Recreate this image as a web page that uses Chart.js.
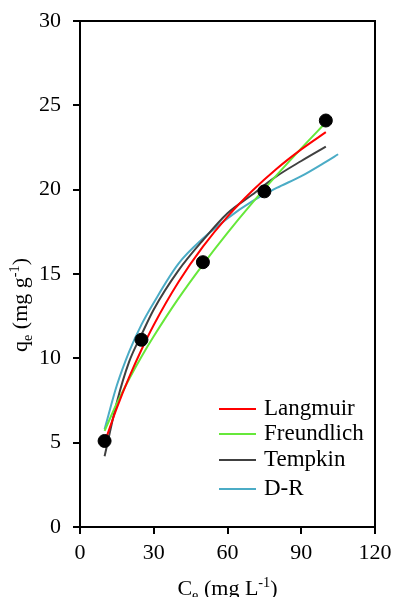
<!DOCTYPE html>
<html>
<head>
<meta charset="utf-8">
<title>Adsorption isotherms</title>
<script src="https://cdn.jsdelivr.net/npm/chart.js@4.4.0/dist/chart.umd.min.js"></script>
<style>
  html, body { margin: 0; padding: 0; background: #fff; }
</style>
</head>
<body>
<canvas id="isoChart" width="394" height="597"></canvas>
<script>
// Experimental equilibrium data
const ceExp = [10, 25, 50, 75, 100];
const qeExp = [5.1, 11.1, 15.7, 19.9, 24.1];

// Model curves (Ce in mg/L, qe in mg/g)
const ceFit = [10, 15, 20, 25, 30, 40, 50, 60, 70, 80, 90, 100];
const langmuirFit = [5.0, 7.06, 8.88, 10.51, 11.98, 14.51, 16.62, 18.4, 19.92, 21.24, 22.39, 23.41];
const freundlichFit = [5.7, 7.34, 8.78, 10.1, 11.31, 13.54, 15.56, 17.44, 19.2, 20.86, 22.45, 23.98];
const tempkinFit = [4.2, 7.4, 9.8, 11.4, 12.9, 15.2, 17.0, 18.6, 19.7, 20.8, 21.7, 22.55];
const ceDR = [10, 15, 20, 25, 30, 40, 50, 60, 70, 80, 90, 100, 105];
const drFit = [5.8, 8.4, 10.4, 12.0, 13.3, 15.6, 17.1, 18.3, 19.3, 20.1, 20.8, 21.65, 22.1];

const xTickValues = [0, 30, 60, 90, 120];
const yTickValues = [0, 5, 10, 15, 20, 25, 30];

const FONT = "'Liberation Serif', 'Times New Roman', serif";

function toPoints(xs, ys) {
  return xs.map((x, i) => ({ x: x, y: ys[i] }));
}

function fitLine(label, xs, ys, color) {
  return {
    label: label,
    data: toPoints(xs, ys),
    showLine: true,
    borderColor: color,
    backgroundColor: color,
    borderWidth: 2,
    pointRadius: 0,
    cubicInterpolationMode: 'monotone'
  };
}

// keep the plot box fixed: no extra room for overhanging tick labels
function fixScale(s, size) {
  if (s.isHorizontal()) s.height = size; else s.width = size;
  s.paddingLeft = 0;
  s.paddingRight = 0;
  s.paddingTop = 0;
  s.paddingBottom = 0;
}

// draw a string made of normal / subscript / superscript pieces
function richWidth(ctx, parts, size) {
  let w = 0;
  parts.forEach(p => {
    ctx.font = (p.sub || p.sup ? size * 0.65 : size) + 'px ' + FONT;
    w += ctx.measureText(p.t).width;
  });
  return w;
}

function drawRich(ctx, parts, size, cx, cy) {
  let x = cx - richWidth(ctx, parts, size) / 2;
  ctx.textBaseline = 'alphabetic';
  ctx.textAlign = 'left';
  parts.forEach(p => {
    let s = p.sub || p.sup ? size * 0.65 : size;
    ctx.font = s + 'px ' + FONT;
    let dy = p.sub ? size * 0.22 : (p.sup ? -size * 0.38 : 0);
    ctx.fillText(p.t, x, cy + dy);
    x += ctx.measureText(p.t).width;
  });
}

const framePlugin = {
  id: 'frame',
  afterDraw(chart) {
    const ctx = chart.ctx;
    const a = chart.chartArea;
    ctx.save();

    // top and right edges of the plot box
    ctx.strokeStyle = '#000';
    ctx.lineWidth = 2;
    ctx.beginPath();
    ctx.moveTo(a.left, a.top);
    ctx.lineTo(a.right, a.top);
    ctx.lineTo(a.right, a.bottom);
    ctx.stroke();

    // legend inside the plot
    const rows = [409, 434, 460, 489];
    const fits = chart.data.datasets.slice(1);
    ctx.font = '23px ' + FONT;
    ctx.textBaseline = 'middle';
    ctx.textAlign = 'left';
    fits.forEach((ds, i) => {
      ctx.strokeStyle = ds.borderColor;
      ctx.lineWidth = 2;
      ctx.beginPath();
      ctx.moveTo(219, rows[i]);
      ctx.lineTo(256, rows[i]);
      ctx.stroke();
      ctx.fillStyle = '#000';
      ctx.fillText(ds.label, 264, rows[i]);
    });

    // axis titles
    ctx.fillStyle = '#000';
    drawRich(ctx, [{ t: 'C' }, { t: 'e', sub: true }, { t: ' (mg L' }, { t: '-1', sup: true }, { t: ')' }],
      22, (a.left + a.right) / 2, 595);
    ctx.translate(27, 305);
    ctx.rotate(-Math.PI / 2);
    drawRich(ctx, [{ t: 'q' }, { t: 'e', sub: true }, { t: ' (mg g' }, { t: '-1', sup: true }, { t: ')' }],
      22, 0, 0);
    ctx.restore();
  }
};

const ctx = document.getElementById('isoChart');

new Chart(ctx, {
  type: 'scatter',
  data: {
    datasets: [
      {
        label: 'Experimental',
        data: toPoints(ceExp, qeExp),
        pointRadius: 6.5,
        pointBackgroundColor: '#000',
        pointBorderColor: '#000',
        showLine: false
      },
      fitLine('Langmuir', ceFit, langmuirFit, '#ff0000'),
      fitLine('Freundlich', ceFit, freundlichFit, '#66e83a'),
      fitLine('Tempkin', ceFit, tempkinFit, '#404040'),
      fitLine('D-R', ceDR, drFit, '#4bacc6')
    ]
  },
  options: {
    responsive: false,
    animation: false,
    devicePixelRatio: 1,
    layout: { padding: { left: 0, top: 21, right: 19, bottom: 0 } },
    plugins: {
      legend: { display: false },
      tooltip: { enabled: false }
    },
    scales: {
      x: {
        type: 'linear',
        min: 0,
        max: 120,
        afterFit: s => fixScale(s, 70),
        afterBuildTicks: s => { s.ticks = xTickValues.map(v => ({ value: v })); },
        border: { display: true, color: '#000', width: 2 },
        grid: { drawOnChartArea: false, drawTicks: true, tickLength: 7, color: '#000', lineWidth: 2 },
        ticks: { color: '#000', padding: 6, font: { family: FONT, size: 22 }, maxRotation: 0 }
      },
      y: {
        type: 'linear',
        min: 0,
        max: 30,
        afterFit: s => fixScale(s, 80),
        afterBuildTicks: s => { s.ticks = yTickValues.map(v => ({ value: v })); },
        border: { display: true, color: '#000', width: 2 },
        grid: { drawOnChartArea: false, drawTicks: true, tickLength: 7, color: '#000', lineWidth: 2 },
        ticks: { color: '#000', padding: 12, font: { family: FONT, size: 22 } }
      }
    }
  },
  plugins: [framePlugin]
});
</script>
</body>
</html>
